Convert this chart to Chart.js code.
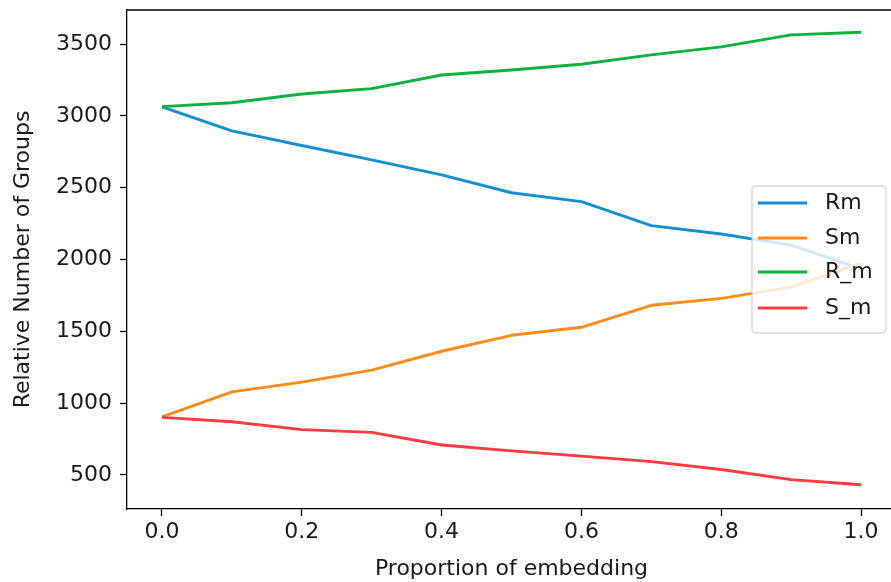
<!DOCTYPE html>
<html>
<head>
<meta charset="utf-8">
<script src="https://cdn.jsdelivr.net/npm/chart.js@4/dist/chart.umd.min.js"></script>
<style>
  html, body { margin:0; padding:0; background:#fff; overflow:hidden; }
  canvas { display:block; }
</style>
</head>
<body>
<canvas id="chart" width="896" height="582"></canvas>
<script>
// data
const proportions = [0.0, 0.1, 0.2, 0.3, 0.4, 0.5, 0.6, 0.7, 0.8, 0.9, 1.0];
const Rm  = [3063, 2896, 2794, 2694, 2590, 2465, 2403, 2236, 2178, 2100, 1935];
const Sm  = [903, 1078, 1146, 1229, 1361, 1472, 1528, 1681, 1729, 1808, 1975];
const R_m = [3065, 3092, 3153, 3190, 3285, 3320, 3360, 3425, 3481, 3565, 3583];
const S_m = [900, 870, 815, 796, 708, 667, 630, 592, 537, 467, 431];
const xTicks = [0.0, 0.2, 0.4, 0.6, 0.8, 1.0];
const yTicks = [500, 1000, 1500, 2000, 2500, 3000, 3500];

const FONT = "'DejaVu Sans', sans-serif";
const FS = 22;
const TXT = "#1a1a1a";

function pts(ys) { return proportions.map((x,i)=>({x:x, y:ys[i]})); }

// top spine (matplotlib box)
const frame = {
  id:"frame",
  afterDraw(chart){
    const a = chart.chartArea, c = chart.ctx;
    c.save();
    c.strokeStyle = "#000";
    c.lineWidth = 1.3;
    c.beginPath();
    c.moveTo(a.left, a.top); c.lineTo(a.right, a.top);
    c.stroke();
    c.restore();
  }
};

// legend box like matplotlib (semi-transparent)
const boxLegend = {
  id:"boxLegend",
  afterDatasetsDraw(chart){
    const c = chart.ctx;
    const x0 = 752, y0 = 186, w = 134, h = 147;
    c.save();
    c.fillStyle = "rgba(255,255,255,0.8)";
    c.strokeStyle = "rgba(204,204,204,0.8)";
    c.lineWidth = 1.3;
    c.beginPath();
    c.roundRect(x0, y0, w, h, 4);
    c.fill(); c.stroke();
    const rowY = [203, 238, 272, 308];
    c.font = FS + "px " + FONT;
    c.textBaseline = "middle";
    c.textAlign = "left";
    chart.data.datasets.forEach((ds,i)=>{
      c.strokeStyle = ds.borderColor;
      c.lineWidth = 2.9;
      c.beginPath();
      c.moveTo(758, rowY[i]); c.lineTo(807, rowY[i]);
      c.stroke();
      c.fillStyle = TXT;
      c.fillText(ds.label, 825, rowY[i]);
    });
    c.restore();
  }
};

new Chart(document.getElementById("chart"), {
  type:"line",
  data:{
    datasets:[
      {label:"Rm",  data:pts(Rm),  borderColor:"#1490d2", order:3},
      {label:"Sm",  data:pts(Sm),  borderColor:"#ff8c1a", order:2},
      {label:"R_m", data:pts(R_m), borderColor:"#0bb23c", order:1},
      {label:"S_m", data:pts(S_m), borderColor:"#ff3b40", order:0}
    ]
  },
  options:{
    responsive:false,
    animation:false,
    layout:{padding:{top:10, left:0, right:0, bottom:0}},
    elements:{
      line:{borderWidth:2.9, tension:0, fill:false, borderJoinStyle:"round", borderCapStyle:"butt"},
      point:{radius:0}
    },
    plugins:{ legend:{display:false}, tooltip:{enabled:false} },
    scales:{
      x:{
        type:"linear", min:-0.05, max:1.05,
        afterFit: s => { s.height = 73; s.paddingLeft = 0; s.paddingRight = 0; },
        afterBuildTicks: s => { s.ticks = xTicks.map(v=>({value:v})); },
        grid:{drawOnChartArea:false, color:"#000", tickLength:7, tickWidth:1.3},
        border:{color:"#000", width:1.3},
        ticks:{color:TXT, font:{family:FONT, size:FS}, padding:3, maxRotation:0,
               callback: v => v.toFixed(1)},
        title:{display:true, text:"Proportion of embedding", color:TXT,
               font:{family:FONT, size:FS}, padding:{top:0, bottom:0}}
      },
      y:{
        type:"linear", min:262, max:3738,
        afterFit: s => { s.width = 127; s.paddingTop = 0; s.paddingBottom = 0; },
        afterBuildTicks: s => { s.ticks = yTicks.map(v=>({value:v})); },
        grid:{drawOnChartArea:false, color:"#000", tickLength:7, tickWidth:1.3},
        border:{color:"#000", width:1.3},
        ticks:{color:TXT, font:{family:FONT, size:FS}, padding:8,
               callback: v => String(v)},
        title:{display:true, text:"Relative Number of Groups", color:TXT,
               font:{family:FONT, size:FS}, padding:{top:10, bottom:0}}
      }
    }
  },
  plugins:[frame, boxLegend]
});
</script>
</body>
</html>
